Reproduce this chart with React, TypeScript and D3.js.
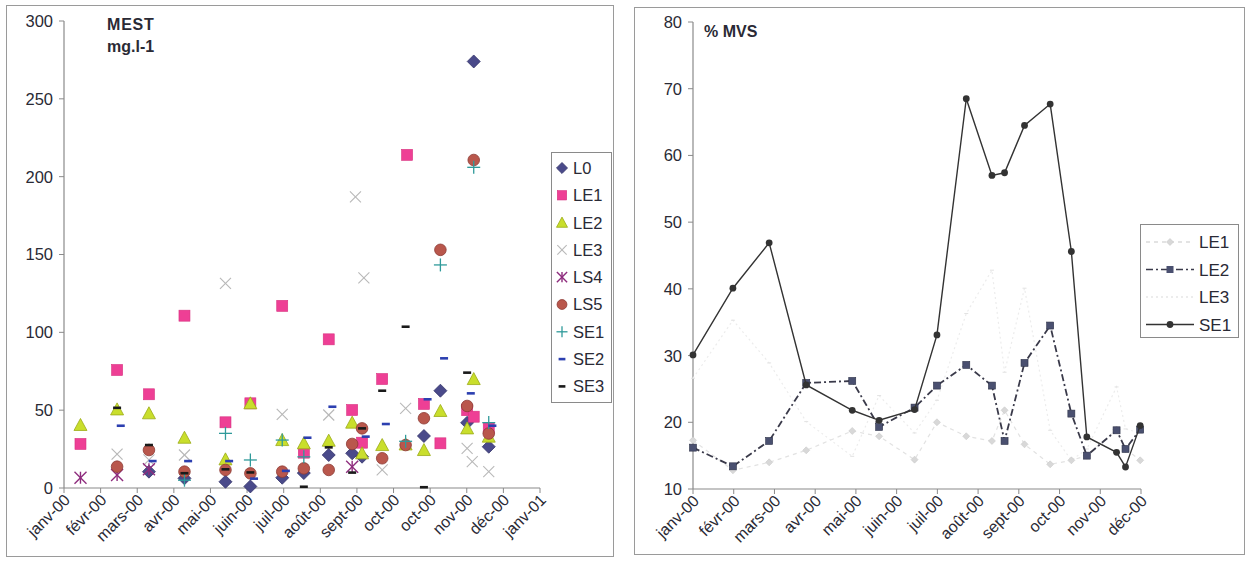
import React from "react";
import * as d3 from "d3";

// ---------- Tick labels ----------
const leftXTicks = ["janv-00", "févr-00", "mars-00", "avr-00", "mai-00", "juin-00", "juil-00", "août-00", "sept-00", "oct-00", "oct-00", "nov-00", "déc-00", "janv-01"];
const rightXTicks = ["janv-00", "févr-00", "mars-00", "avr-00", "mai-00", "juin-00", "juil-00", "août-00", "sept-00", "oct-00", "nov-00", "déc-00"];
const leftYTicks = [0, 50, 100, 150, 200, 250, 300];
const rightYTicks = [10, 20, 30, 40, 50, 60, 70, 80];

// ---------- Left chart (MEST mg.l-1): [position on date axis (tick units), value] ----------
const L0 = [[2.32, 10.5], [3.29, 6.2], [4.41, 4], [5.09, 1], [5.96, 6.6], [6.55, 9.6], [7.23, 21.2], [7.87, 22.3], [8.14, 20.1], [9.83, 33.4], [10.28, 62.5], [11.01, 41.9], [11.19, 274], [11.6, 26.5]];
const LE1 = [[0.45, 28.3], [1.45, 75.8], [2.32, 60.2], [3.29, 110.7], [4.41, 42.2], [5.09, 54.4], [5.96, 117], [6.55, 22.7], [7.23, 95.5], [7.87, 50.1], [8.14, 29.1], [8.69, 70], [9.37, 214], [9.83, 54], [10.28, 28.7], [11.01, 50], [11.19, 45.8], [11.6, 38.3]];
const LE2 = [[0.45, 40.5], [1.45, 50.5], [2.32, 48], [3.29, 32.3], [4.41, 18.4], [5.09, 54.4], [5.96, 30.8], [6.55, 28.7], [7.23, 30.4], [7.87, 42], [8.14, 22.3], [8.69, 27.6], [9.33, 28], [9.83, 24.4], [10.28, 49.5], [11.01, 38.3], [11.19, 70], [11.6, 33]];
const LE3 = [[1.45, 21.8], [2.32, 18], [3.29, 21.2], [4.41, 131.5], [5.96, 47.3], [7.23, 46.9], [7.96, 187], [8.19, 135], [8.69, 11.6], [9.33, 51.2], [11.01, 25.5], [11.15, 16.9], [11.6, 10.5]];
const LS4 = [[0.45, 6.6], [1.45, 8.3], [2.32, 12], [7.87, 13.7]];
const LS5 = [[1.45, 13.7], [2.32, 24.4], [3.29, 10.5], [4.41, 11.6], [5.09, 9.4], [5.96, 10.5], [6.55, 12.6], [7.23, 11.6], [7.87, 28.3], [8.14, 38.3], [8.69, 19.1], [9.33, 27.6], [9.83, 44.8], [10.28, 153], [11.01, 52.7], [11.19, 210.7], [11.6, 35]];
const SE1 = [[3.29, 5], [4.41, 35.1], [5.09, 18], [5.96, 30.8], [6.55, 20], [9.33, 30], [10.28, 143.3], [11.19, 206], [11.6, 42]];
const SE2 = [[1.55, 40], [2.42, 17.3], [3.39, 17.3], [4.51, 17.3], [5.19, 6], [6.06, 11], [6.65, 32.3], [7.33, 52.2], [8.24, 33], [8.79, 41.1], [9.93, 57], [10.38, 83.3], [11.11, 60.8], [11.7, 40]];
const SE3 = [[1.45, 51.5], [2.32, 27.6], [3.29, 9.5], [4.41, 12], [5.09, 10], [6.55, 0.8], [7.23, 26.1], [7.87, 9.9], [8.14, 38.3], [8.69, 62.5], [9.33, 103.6], [9.83, 0.5], [11.01, 74.1]];

// ---------- Right chart (% MVS) ----------
const rightX = [0, 0.98, 1.87, 2.78, 3.91, 4.57, 5.44, 5.99, 6.71, 7.34, 7.65, 8.14, 8.77, 9.29, 9.67, 10.4, 10.62, 10.98];
const LE1_MVS = [17.3, 12.8, 14.0, 15.8, 18.7, 17.9, 14.4, 20.0, 17.9, 17.2, 21.8, 16.7, 13.7, 14.3, 15.0, 18.9, 16.0, 14.3];
const LE2_MVS = [16.2, 13.4, 17.2, 25.9, 26.2, 19.3, 22.2, 25.5, 28.6, 25.5, 17.2, 28.9, 34.5, 21.3, 15.0, 18.8, 16.0, 18.9];
const LE3_MVS = [26.6, 35.3, 28.9, 20.1, 14.9, 24.0, 18.4, 23.3, 36.3, 42.8, 27.5, 40.1, 18.8, 14.3, 16.0, 25.3, 19.0, 18.4];
const SE1_MVS = [30.1, 40.1, 46.9, 25.6, 21.8, 20.3, 21.9, 33.1, 68.5, 57.0, 57.4, 64.5, 67.7, 45.6, 17.8, 15.5, 13.3, 19.5];

const FONT = "'Liberation Sans', Arial, sans-serif";
const AXIS = "#8a8a8a";
const TXT = "#2a2a35";

type Shape = "diamond" | "square" | "triangle" | "x" | "asterisk" | "circle" | "plus" | "dashBlue" | "dashBlack";

function Marker({ shape, x, y, s = 1 }: { shape: Shape; x: number; y: number; s?: number }) {
  switch (shape) {
    case "diamond": {
      const h = 6.5 * s;
      return <polygon points={`${x},${y - h} ${x + h},${y} ${x},${y + h} ${x - h},${y}`} fill="#4a4a8a" stroke="#33336a" strokeWidth={0.8} />;
    }
    case "square": {
      const h = 5.5 * s;
      return <rect x={x - h} y={y - h} width={2 * h} height={2 * h} fill="#ee3f95" stroke="#d8307f" strokeWidth={0.6} />;
    }
    case "triangle": {
      const h = 6.5 * s;
      return <polygon points={`${x},${y - h} ${x + h},${y + h * 0.85} ${x - h},${y + h * 0.85}`} fill="#c9de2c" stroke="#9aab18" strokeWidth={0.8} />;
    }
    case "x": {
      const h = 5.5 * s;
      return <g stroke="#b8b8b8" strokeWidth={1.1}><line x1={x - h} y1={y - h} x2={x + h} y2={y + h} /><line x1={x - h} y1={y + h} x2={x + h} y2={y - h} /></g>;
    }
    case "asterisk": {
      const h = 6 * s;
      return <g stroke="#8e2c7d" strokeWidth={1.4}><line x1={x - h} y1={y - h} x2={x + h} y2={y + h} /><line x1={x - h} y1={y + h} x2={x + h} y2={y - h} /><line x1={x} y1={y - h} x2={x} y2={y + h} /></g>;
    }
    case "circle":
      return <circle cx={x} cy={y} r={5.8 * s} fill="#b9574c" stroke="#8d3a33" strokeWidth={0.8} />;
    case "plus": {
      const h = 6.5 * s;
      return <g stroke="#2f9a9a" strokeWidth={1.3}><line x1={x - h} y1={y} x2={x + h} y2={y} /><line x1={x} y1={y - h} x2={x} y2={y + h} /></g>;
    }
    case "dashBlue":
      return <line x1={x - 4 * s} y1={y} x2={x + 4 * s} y2={y} stroke="#2c3fb0" strokeWidth={2.6} />;
    case "dashBlack":
      return <line x1={x - 4 * s} y1={y} x2={x + 4 * s} y2={y} stroke="#1a1a1a" strokeWidth={2.6} />;
  }
  return null;
}

const leftSeries: { name: string; shape: Shape; data: number[][] }[] = [
  { name: "L0", shape: "diamond", data: L0 },
  { name: "LE1", shape: "square", data: LE1 },
  { name: "LE2", shape: "triangle", data: LE2 },
  { name: "LE3", shape: "x", data: LE3 },
  { name: "LS4", shape: "asterisk", data: LS4 },
  { name: "LS5", shape: "circle", data: LS5 },
  { name: "SE1", shape: "plus", data: SE1 },
  { name: "SE2", shape: "dashBlue", data: SE2 },
  { name: "SE3", shape: "dashBlack", data: SE3 },
];

function LeftChart() {
  const x = d3.scaleLinear().domain([0, 13]).range([64, 540]);
  const y = d3.scaleLinear().domain([0, 300]).range([488, 21]);
  const x0 = x(0), y0 = y(0);
  return (
    <g>
      <rect x={6.5} y={5.5} width={607} height={551} fill="#fff" stroke="#9a9a9a" strokeWidth={1} />
      <line x1={x0} y1={y(300)} x2={x0} y2={y0} stroke={AXIS} strokeWidth={1.2} />
      <line x1={x0} y1={y0} x2={x(13)} y2={y0} stroke={AXIS} strokeWidth={1.2} />
      {leftYTicks.map((t) => (
        <g key={t}>
          <line x1={x0 - 5} y1={y(t)} x2={x0} y2={y(t)} stroke={AXIS} />
          <text x={x0 - 11} y={y(t)} dy="0.36em" textAnchor="end" fontSize={16.5} fill={TXT}>{t}</text>
        </g>
      ))}
      {leftXTicks.map((t, i) => (
        <g key={i}>
          <line x1={x(i)} y1={y0} x2={x(i)} y2={y0 + 5} stroke={AXIS} />
          <text transform={`translate(${x(i) + 7},${y0 + 13}) rotate(-45)`} textAnchor="end" fontSize={16} fill={TXT}>{t}</text>
        </g>
      ))}
      <text x={107} y={30} fontSize={16} fontWeight="bold" fill={TXT} letterSpacing={0.8}>MEST</text>
      <text x={107} y={52} fontSize={16} fontWeight="bold" fill={TXT}>mg.l-1</text>
      {leftSeries.map((s) => (
        <g key={s.name}>
          {s.data.map((d, i) => <Marker key={i} shape={s.shape} x={x(d[0])} y={y(d[1])} />)}
        </g>
      ))}
      <rect x={551.5} y={152.5} width={60} height={250} fill="#fff" stroke="#8a8a8a" strokeWidth={1} />
      {leftSeries.map((s, i) => {
        const ly = 168 + i * 27.3;
        return (
          <g key={s.name}>
            <Marker shape={s.shape} x={562} y={ly} s={0.85} />
            <text x={573} y={ly} dy="0.36em" fontSize={16.5} fill={TXT}>{s.name}</text>
          </g>
        );
      })}
    </g>
  );
}

function RightChart() {
  const x = d3.scaleLinear().domain([0, 11]).range([693, 1141]);
  const y = d3.scaleLinear().domain([10, 80]).range([489, 22]);
  const x0 = x(0), y0 = y(10);
  const pts = (vals: number[]) => rightX.map((xv, i) => [x(xv), y(vals[i])] as [number, number]);
  const line = d3.line();
  const se1 = pts(SE1_MVS), le2 = pts(LE2_MVS), le1 = pts(LE1_MVS), le3 = pts(LE3_MVS);
  const legend = [
    { name: "LE1", stroke: "#dadada", dash: "4,4", marker: "diamondLight" },
    { name: "LE2", stroke: "#3a3a4a", dash: "7,3,2,3", marker: "square" },
    { name: "LE3", stroke: "#e6e6e6", dash: "2,3", marker: "none" },
    { name: "SE1", stroke: "#333", dash: "", marker: "circle" },
  ];
  const lightDiamond = (px: number, py: number, k: number) => (
    <polygon key={k} points={`${px},${py - 3.5} ${px + 3.5},${py} ${px},${py + 3.5} ${px - 3.5},${py}`} fill="#d8d8d8" stroke="#cacaca" strokeWidth={0.6} />
  );
  return (
    <g>
      <rect x={634.5} y={7.5} width={610} height={547} fill="#fff" stroke="#9a9a9a" strokeWidth={1} />
      <line x1={x0} y1={y(80)} x2={x0} y2={y0} stroke={AXIS} strokeWidth={1.2} />
      <line x1={x0} y1={y0} x2={x(11)} y2={y0} stroke={AXIS} strokeWidth={1.2} />
      {rightYTicks.map((t) => (
        <g key={t}>
          <line x1={x0 - 5} y1={y(t)} x2={x0} y2={y(t)} stroke={AXIS} />
          <text x={x0 - 11} y={y(t)} dy="0.36em" textAnchor="end" fontSize={16.5} fill={TXT}>{t}</text>
        </g>
      ))}
      {rightXTicks.map((t, i) => (
        <g key={i}>
          <line x1={x(i)} y1={y0} x2={x(i)} y2={y0 + 5} stroke={AXIS} />
          <text transform={`translate(${x(i) + 7},${y0 + 13}) rotate(-45)`} textAnchor="end" fontSize={16} fill={TXT}>{t}</text>
        </g>
      ))}
      <text x={704} y={37} fontSize={16} fontWeight="bold" fill={TXT}>% MVS</text>
      <path d={line(le3) || ""} fill="none" stroke="#ececec" strokeWidth={1.2} strokeDasharray="2,3" />
      {le3.map((p, i) => <line key={i} x1={p[0] - 2} y1={p[1]} x2={p[0] + 2} y2={p[1]} stroke="#e2e2e2" strokeWidth={1} />)}
      <path d={line(le1) || ""} fill="none" stroke="#e2e2e2" strokeWidth={1.2} strokeDasharray="4,4" />
      {le1.map((p, i) => lightDiamond(p[0], p[1], i))}
      <path d={line(le2) || ""} fill="none" stroke="#3a3a4a" strokeWidth={1.8} strokeDasharray="7,3,2,3" />
      {le2.map((p, i) => <rect key={i} x={p[0] - 3.5} y={p[1] - 3.5} width={7} height={7} fill="#4a5070" stroke="#2e3248" strokeWidth={0.6} />)}
      <path d={line(se1) || ""} fill="none" stroke="#333" strokeWidth={1.4} />
      {se1.map((p, i) => <circle key={i} cx={p[0]} cy={p[1]} r={3.4} fill="#333" />)}
      <rect x={1140.5} y={224.5} width={98} height={113} fill="#fff" stroke="#8a8a8a" strokeWidth={1} />
      {legend.map((l, i) => {
        const ly = 242 + i * 27.5;
        return (
          <g key={l.name}>
            <line x1={1146} y1={ly} x2={1194} y2={ly} stroke={l.stroke} strokeWidth={l.name === "LE2" ? 1.6 : 1.3} strokeDasharray={l.dash || undefined} />
            {l.marker === "circle" && <circle cx={1170} cy={ly} r={3.4} fill="#333" />}
            {l.marker === "square" && <rect x={1166.5} y={ly - 3.5} width={7} height={7} fill="#4a5070" />}
            {l.marker === "diamondLight" && lightDiamond(1170, ly, 0)}
            <text x={1199} y={ly} dy="0.36em" fontSize={17} fill={TXT}>{l.name}</text>
          </g>
        );
      })}
    </g>
  );
}

export default function App() {
  return (
    <svg width={1248} height={561} style={{ position: "absolute", left: 0, top: 0, background: "#fff" }} fontFamily={FONT}>
      <rect x={0} y={0} width={1248} height={561} fill="#fff" />
      <LeftChart />
      <RightChart />
    </svg>
  );
}
